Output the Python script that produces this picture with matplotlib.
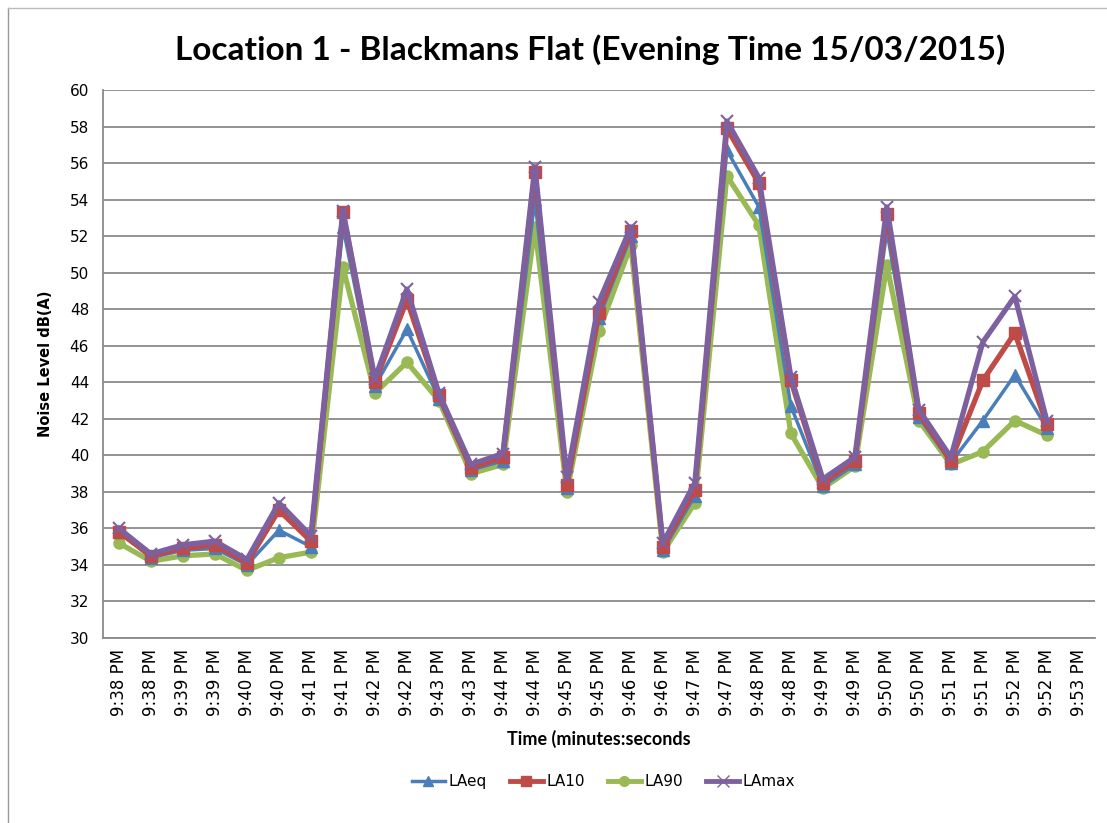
import matplotlib
matplotlib.use("Agg")
import matplotlib.pyplot as plt
from matplotlib.lines import Line2D

times = ["9:38 PM", "9:38 PM", "9:39 PM", "9:39 PM", "9:40 PM", "9:40 PM", "9:41 PM",
         "9:41 PM", "9:42 PM", "9:42 PM", "9:43 PM", "9:43 PM", "9:44 PM", "9:44 PM",
         "9:45 PM", "9:45 PM", "9:46 PM", "9:46 PM", "9:47 PM", "9:47 PM", "9:48 PM",
         "9:48 PM", "9:49 PM", "9:49 PM", "9:50 PM", "9:50 PM", "9:51 PM", "9:51 PM",
         "9:52 PM", "9:52 PM", "9:53 PM"]

laeq = [35.8, 34.4, 34.8, 34.9, 34.0, 35.9, 35.0, 52.5, 43.8, 46.9, 43.1, 39.2, 39.7, 54.0,
        38.2, 47.5, 52.0, 34.8, 37.8, 56.7, 53.6, 42.7, 38.3, 39.5, 52.3, 42.1, 39.6, 41.9,
        44.4, 41.5]
la10 = [35.8, 34.5, 34.9, 35.1, 34.1, 37.0, 35.3, 53.3, 44.0, 48.5, 43.3, 39.3, 39.9, 55.5,
        38.4, 47.8, 52.3, 35.0, 38.1, 57.9, 54.9, 44.1, 38.5, 39.7, 53.2, 42.3, 39.7, 44.1,
        46.7, 41.7]
la90 = [35.2, 34.2, 34.5, 34.6, 33.7, 34.4, 34.7, 50.3, 43.4, 45.1, 43.0, 39.0, 39.5, 52.5,
        38.0, 46.8, 51.5, 34.7, 37.4, 55.3, 52.6, 41.2, 38.2, 39.4, 50.4, 41.9, 39.5, 40.2,
        41.9, 41.1]
lamax = [36.0, 34.6, 35.1, 35.3, 34.3, 37.4, 35.6, 53.4, 44.2, 49.1, 43.4, 39.5, 40.1, 55.8,
         38.8, 48.4, 52.5, 35.2, 38.5, 58.3, 55.2, 44.3, 38.7, 39.9, 53.6, 42.5, 39.9, 46.2,
         48.7, 41.9]

series_names = ["LAeq", "LA10", "LA90", "LAmax"]
title = "Location 1 - Blackmans Flat (Evening Time 15/03/2015)"

fig = plt.figure(figsize=(11.07, 8.23), dpi=100)
ax = fig.add_axes([0.093, 0.2248, 0.896, 0.6658])

x = list(range(len(laeq)))
c_eq, c_10, c_90, c_max = "#4A7EBB", "#BE4B48", "#98B954", "#7D60A0"
ax.plot(x, la90, color=c_90, lw=3.8, marker="o", ms=8, label="LA90", zorder=3)
ax.plot(x, laeq, color=c_eq, lw=2.5, marker="^", ms=8, label="LAeq", zorder=4)
ax.plot(x, la10, color=c_10, lw=3.8, marker="s", ms=8, label="LA10", zorder=5)
ax.plot(x, lamax, color=c_max, lw=3.8, marker="x", ms=9, mew=1.5, label="LAmax", zorder=6)

ax.set_xlim(-0.5, len(times) - 0.5)
ax.set_ylim(30, 60)
ax.set_yticks(range(30, 61, 2))
ax.set_xticks(range(len(times)))
ax.set_xticklabels(times, rotation=90, fontsize=12, family="DejaVu Sans")
ax.tick_params(axis="y", labelsize=11, length=0, pad=10)
ax.tick_params(axis="x", length=0, pad=8)
ax.grid(axis="y", color="#8a8a8a", lw=1.3)
ax.set_axisbelow(True)
for s in ["top", "right"]:
    ax.spines[s].set_visible(False)
for s in ["left", "bottom"]:
    ax.spines[s].set_color("#8a8a8a")
    ax.spines[s].set_linewidth(1.3)

ax.set_ylabel("Noise Level dB(A)", fontsize=10.5, fontweight="bold", labelpad=12)
ax.set_xlabel("Time (minutes:seconds", fontsize=13, fontweight="bold", family="Lato", labelpad=10)
fig.text(0.533, 0.94, title, ha="center", va="center", fontsize=24, fontweight="bold",
         family="Lato")

handles = [Line2D([], [], color=c_eq, lw=2.5, marker="^", ms=7),
           Line2D([], [], color=c_10, lw=3.5, marker="s", ms=7),
           Line2D([], [], color=c_90, lw=3.5, marker="o", ms=7),
           Line2D([], [], color=c_max, lw=3.5, marker="x", ms=8)]
fig.legend(handles, series_names, loc="center", bbox_to_anchor=(0.545, 0.05), ncol=4,
           frameon=False, fontsize=11, handlelength=2.2, handletextpad=0.2, columnspacing=1.5)

fig.add_artist(Line2D([0.007, 0.007], [0, 0.99], color="#999999", lw=1, transform=fig.transFigure))
fig.add_artist(Line2D([0.007, 1.0], [0.99, 0.99], color="#bbbbbb", lw=1, transform=fig.transFigure))

fig.savefig("out.png", dpi=100)
